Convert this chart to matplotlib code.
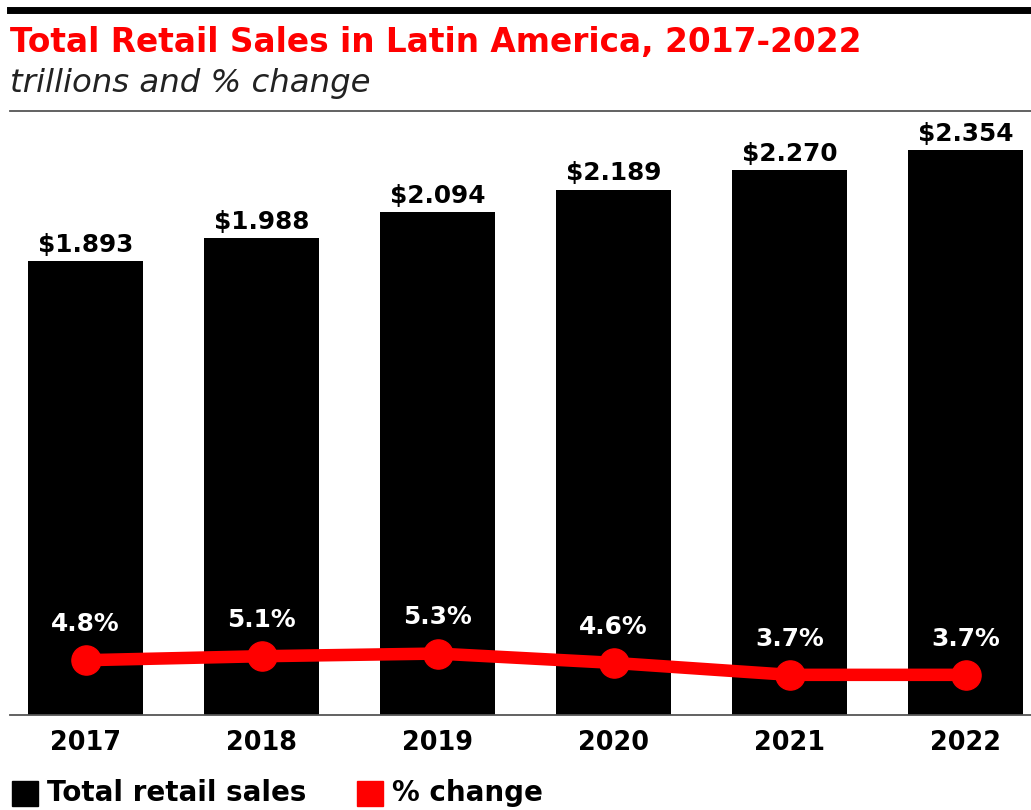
"""Total retail sales in Latin America 2017-2022: bars for sales (trillions)
with the year-over-year % change drawn as a line on a second axis.
Writes out.png.
"""
import matplotlib
matplotlib.use('Agg')
import matplotlib.pyplot as plt
from matplotlib.patches import Rectangle
from matplotlib.lines import Line2D

years = ['2017', '2018', '2019', '2020', '2021', '2022']
sales = [1.893, 1.988, 2.094, 2.189, 2.270, 2.354]      # trillions
pct_change = [4.8, 5.1, 5.3, 4.6, 3.7, 3.7]              # %

RED = '#ff0000'
FONT = 'DejaVu Sans'
W, H = 1031, 810


def main():
    fig = plt.figure(figsize=(W / 100, H / 100), dpi=100)

    # header rules
    fig.add_artist(Line2D([10 / W, 1], [1 - 10 / H] * 2, color='black', lw=5,
                          transform=fig.transFigure))
    fig.add_artist(Line2D([10 / W, 1], [1 - 111 / H] * 2, color='#555555', lw=1.3,
                          transform=fig.transFigure))
    fig.text(10 / W, 1 - 52 / H, 'Total Retail Sales in Latin America, 2017-2022',
             color=RED, fontsize=23.6, fontweight='bold', family=FONT, va='baseline')
    fig.text(10 / W, 1 - 92 / H, 'trillions and % change', color='#222222',
             fontsize=23.3, style='italic', family=FONT, va='baseline')

    ax = fig.add_axes([10 / W, 95 / H, 1 - 10 / W, 600 / H])
    x = list(range(len(years)))
    ax.bar(x, sales, width=0.653, color='black', zorder=2)
    for i, v in enumerate(sales):
        ax.annotate(f'${v:.3f}', (i, v), xytext=(0, 3), textcoords='offset points',
                    ha='center', va='bottom', fontsize=17.8, fontweight='bold',
                    family=FONT)
    ax.set_xlim(-0.429, 5.372)
    ax.set_ylim(0, 2.5)
    ax.set_xticks(x)
    ax.set_xticklabels(years, fontsize=18.4, fontweight='bold', family=FONT)
    ax.tick_params(axis='x', length=0, pad=11)
    ax.set_yticks([])
    for s in ('top', 'left', 'right'):
        ax.spines[s].set_visible(False)
    ax.spines['bottom'].set_color('#555555')
    ax.spines['bottom'].set_linewidth(1.3)

    # % change line on its own scale
    ax2 = ax.twinx()
    ax2.plot(x, pct_change, color=RED, lw=9, marker='o', ms=21, zorder=3,
             solid_capstyle='round')
    for i, p in enumerate(pct_change):
        ax2.annotate(f'{p:.1f}%', (i, p), xytext=(0, 26), textcoords='offset points',
                     ha='center', va='center', fontsize=17.9, fontweight='bold',
                     color='white', family=FONT)
    ax2.set_ylim(0.68, 45.8)
    ax2.set_yticks([])
    for s in ax2.spines.values():
        s.set_visible(False)

    # legend
    fig.add_artist(Rectangle((12 / W, 4 / H), 26 / W, 25 / H, color='black',
                             transform=fig.transFigure))
    fig.text(47 / W, 17 / H, 'Total retail sales', fontsize=20, fontweight='bold',
             family=FONT, va='center')
    fig.add_artist(Rectangle((357 / W, 4 / H), 26 / W, 25 / H, color=RED,
                             transform=fig.transFigure))
    fig.text(392 / W, 17 / H, '% change', fontsize=20, fontweight='bold',
             family=FONT, va='center')

    fig.savefig('out.png', dpi=100)


if __name__ == '__main__':
    main()
